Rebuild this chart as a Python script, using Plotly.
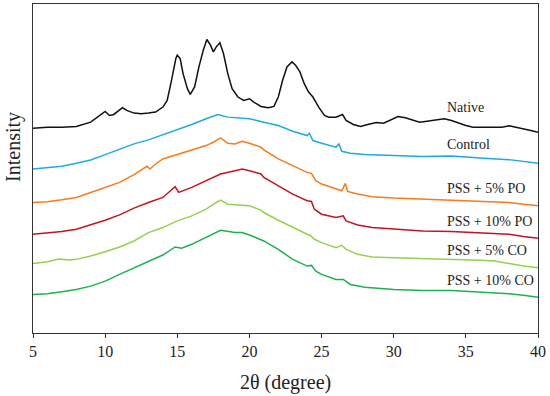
import plotly.graph_objects as go

# 2-theta positions (degree) and intensities (arbitrary units)
native_x = [5, 6, 7, 8, 9, 9.5, 10, 10.3, 10.6, 11.2, 11.5, 12, 12.5, 13, 13.5, 14, 14.3, 14.6, 14.9, 15.0,
            15.2, 15.4, 15.7, 15.9, 16.2, 16.5, 16.8, 17.05, 17.3, 17.5, 17.7, 17.95, 18.2, 18.5, 18.8, 19.2,
            19.6, 20.0, 20.3, 20.8, 21.3, 21.7, 22.0, 22.3, 22.6, 22.95, 23.2, 23.5, 23.8, 24.1, 24.4, 24.8,
            25.2, 25.5, 26.0, 26.45, 26.7, 27.2, 27.7, 28.2, 28.8, 29.3, 29.8, 30.3, 30.8, 31.3, 31.8, 32.3,
            33, 33.5, 34, 34.5, 35, 35.5, 36, 36.5, 37, 37.5, 38, 38.5, 39, 39.5, 40]
native_y = [612, 615, 615, 617, 630, 645, 662, 650, 653, 673, 665, 657, 655, 657, 660, 675, 695, 755, 820, 830,
            820, 775, 730, 713, 735, 795, 845, 877, 860, 840, 855, 867, 835, 775, 730, 705,
            695, 700, 690, 677, 673, 677, 705, 755, 795, 810, 800, 780, 745, 720, 705, 675,
            650, 645, 645, 653, 635, 623, 617, 623, 629, 627, 637, 647, 643, 637, 630, 633,
            638, 640, 635, 627, 620, 615, 615, 613, 613, 615, 619, 615, 610, 605, 600]

control_x = [5, 6, 7, 8, 9, 10, 11, 12, 13, 14, 15, 16, 17, 17.8, 18.5, 19, 20, 21, 22, 23, 24, 24.15, 24.4,
             25, 26, 26.2, 26.4, 27, 28, 30, 32, 34, 35, 36, 38, 39, 40]
control_y = [490, 493, 498, 507, 517, 533, 550, 565, 577, 592, 607, 623, 640, 653, 645, 643, 640, 630, 620, 603,
             590, 597, 575, 567, 555, 565, 543, 537, 533, 530, 527, 529, 525, 523, 518, 513, 507]

po5_x = [5, 6, 7, 8, 9, 10, 11, 12, 12.9, 13.1, 13.5, 14, 15, 16, 17, 17.5, 18, 18.5, 19, 19.5, 20, 20.8, 21,
         22, 23, 24, 24.3, 24.6, 25, 26, 26.4, 26.65, 26.8, 27.5, 28.5, 30, 32, 34, 36, 38, 39, 40]
po5_y = [390, 392, 398, 405, 420, 435, 450, 473, 498, 490, 505, 520, 533, 545, 560, 570, 583, 567, 565, 573,
         567, 555, 547, 520, 500, 480, 477, 455, 445, 430, 425, 447, 423, 415, 407, 403, 400, 398, 395, 390,
         385, 380]

po10_x = [5, 6, 7, 8, 9, 10, 11, 12, 13, 14, 14.85, 15.1, 16, 17, 18, 19, 19.5, 20, 20.8, 21, 22, 23, 24,
          24.3, 24.5, 25, 26, 26.5, 26.7, 27.5, 28.5, 30, 32, 34, 36, 38, 39, 40]
po10_y = [295, 298, 303, 310, 323, 337, 353, 373, 390, 405, 437, 420, 435, 455, 475, 485, 490, 485, 475, 465,
          440, 415, 395, 393, 370, 355, 345, 350, 335, 323, 315, 310, 305, 303, 300, 295, 288, 283]

co5_x = [5, 6, 6.8, 7.5, 8, 9, 10, 11, 12, 13, 14, 15, 16, 17, 17.7, 18, 18.5, 19, 20, 20.8, 21, 22, 23, 24,
         24.2, 24.5, 25, 26, 26.4, 26.7, 27.5, 28.5, 30, 32, 34, 36, 37, 38, 39, 40]
co5_y = [208, 213, 221, 218, 220, 230, 243, 257, 275, 300, 315, 335, 350, 370, 390, 397, 385, 383, 380, 367,
         360, 337, 315, 295, 292, 280, 270, 255, 262, 250, 235, 227, 225, 223, 220, 217, 215, 207, 200, 195]

co10_x = [5, 6, 7, 8, 9, 10, 11, 12, 13, 14, 14.85, 15.3, 16, 17, 17.5, 18, 19, 19.5, 20, 21, 22, 23, 24,
          24.3, 24.6, 25, 26, 26.5, 27, 28, 30, 32, 34, 36, 38, 39, 40]
co10_y = [115, 117, 123, 130, 140, 155, 175, 195, 215, 233, 257, 253, 265, 285, 295, 307, 300, 300, 293, 275,
          250, 220, 200, 202, 185, 175, 160, 160, 145, 137, 130, 127, 127, 123, 117, 113, 107]

series_names = ["Native", "Control", "PSS + 5% PO", "PSS + 10% PO", "PSS + 5% CO", "PSS + 10% CO"]
series_colors = ["#111111", "#1FA9E1", "#F77A1C", "#C01622", "#92D050", "#1DB14E"]
label_x = [33.58, 33.58, 33.58, 33.58, 33.58, 33.58]
label_y = [674, 563, 433, 333, 246, 158]
x_ticks = [5, 10, 15, 20, 25, 30, 35, 40]

xs = [native_x, control_x, po5_x, po10_x, co5_x, co10_x]
ys = [native_y, control_y, po5_y, po10_y, co5_y, co10_y]

FONT = "Liberation Serif"

fig = go.Figure()
for name, color, x, y in zip(series_names, series_colors, xs, ys):
    fig.add_trace(go.Scatter(x=x, y=y, mode="lines", name=name,
                             line=dict(color=color, width=1.5), showlegend=False))

for name, lx, ly in zip(series_names, label_x, label_y):
    fig.add_annotation(x=lx, y=ly, text=name, showarrow=False, xanchor="left", yanchor="middle",
                       font=dict(family=FONT, size=14, color="#222222"))

# axis titles placed in paper coordinates
fig.add_annotation(x=0.5, y=-0.11, xref="paper", yref="paper", text="2θ (degree)", showarrow=False,
                   xanchor="center", yanchor="top", font=dict(family=FONT, size=20, color="#222222"))
fig.add_annotation(x=-0.04, y=0.565, xref="paper", yref="paper", text="Intensity", showarrow=False,
                   textangle=-90, xanchor="center", yanchor="middle",
                   font=dict(family=FONT, size=20, color="#222222"))

fig.update_layout(
    width=550, height=396,
    margin=dict(l=33, r=12, t=4, b=63, autoexpand=False),
    paper_bgcolor="white", plot_bgcolor="white",
    font=dict(family=FONT, color="#222222"),
    xaxis=dict(range=[5, 40], tickmode="array", tickvals=x_ticks, automargin=False,
               ticks="outside", ticklen=4, tickcolor="#333333", showgrid=False, zeroline=False,
               showline=True, linecolor="#333333", linewidth=1, mirror=True,
               tickfont=dict(family=FONT, size=16, color="#222222")),
    yaxis=dict(range=[0, 983], showticklabels=False, ticks="", showgrid=False, zeroline=False,
               automargin=False, showline=True, linecolor="#333333", linewidth=1, mirror=True),
)

fig.write_html("out.html", config={"displayModeBar": False},
               post_script="document.body.style.margin='0';")
